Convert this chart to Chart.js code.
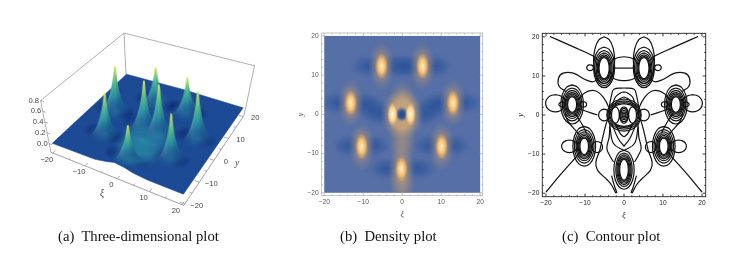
<!DOCTYPE html>
<html><head><meta charset="utf-8">
<script src="https://cdn.jsdelivr.net/npm/chart.js@4"></script>
<style>
html,body{margin:0;padding:0;background:#fff;width:730px;height:253px;overflow:hidden}
canvas{position:absolute}
.cap{position:absolute;top:228px;font:14.7px "Liberation Serif",serif;color:#111;white-space:pre}
</style></head><body>
<canvas id="c3d" width="280" height="253" style="left:0;top:0"></canvas>
<canvas id="cden" width="210" height="210" style="left:290px;top:20px"></canvas>
<canvas id="ccon" width="210" height="210" style="left:510px;top:20px"></canvas>
<div class="cap" style="left:58px">(a)  Three-dimensional plot</div>
<div class="cap" style="left:340px">(b)  Density plot</div>
<div class="cap" style="left:562px">(c)  Contour plot</div>
<script>
/* ---------- values ---------- */
const axisLabelTicks=[-20,-10,0,10,20];
const zLabelTicks=[0,0.2,0.4,0.6,0.8];
// peaks: xi, y, height
const peaks3d=[[-5.3,12,0.62],[5.3,12,0.62],[-13.5,3,0.8],[-2.4,0,0.84],[2.4,0,0.85],[13.5,3,0.82],[-10.5,-8,0.73],[10.5,-8,0.75],[0,-14,0.55]];
// broad raised areas of the surface: xi, y
const mounds3d=[[1,-6],[1,-10],[0,-2]];
// valleys: xi, y
const valleys=[[-16.4,2.9],[-10,2.9],[-5.7,0],[5.4,0],[9.7,2.9],[16,2.9],[-8.7,12.3],[0,12.3],[8.4,12.3],[-13.4,-8],[-7.4,-8],[7.1,-8],[13,-8],[-4,-13.8],[4.1,-13.8]];
// outline of the surface sheet: xi, y, height
const sheetEdge=[[-20,-20,0],[-7,-20,0.01],[-3.5,-20,0.05],[-1,-20,0.09],[2,-20,0.07],[4.5,-20,0.03],[9,-20,0.005],[20,-20,0],[20,20,0],[8,20,0.01],[0,20,0.02],[-20,20,0]];
// box edges: xi, y, height
const B=20.6,ZB=-0.16,ZT=0.8;
const boxBack=[[[-B,-B,ZB],[-B,-B,ZT],[-B,B,ZT],[B,B,ZT],[B,B,ZB]],[[-B,B,ZT],[-B,B,ZB]]];
const boxFront=[[[-B,-B,ZB],[B,-B,ZB],[B,B,ZB]]];

// density plot
const densityPeaks=[[-5.3,12.3],[5.2,12.3],[-13.2,2.9],[13,2.9],[-10.4,-8.2],[10.1,-8.2],[-0.2,-13.9]];
const densityInner=[[-2.5,0],[2.1,0]];
const densityDips=[[-16.4,2.9],[-10,2.9],[-8,1.6],[-5.7,0],[5.4,0],[7.5,1.6],[9.7,2.9],[16,2.9],[-8.7,12.3],[-2.2,12.3],[0,12.3],[2.2,12.3],[8.4,12.3],[-13.4,-8],[-7.4,-8],[7.1,-8],[13,-8],[-4,-13.8],[4.1,-13.8]];
const densityHole=[[-0.1,0]];
const densityRidge=[[0,5],[0,3],[0,-3],[0,-5],[0,-7],[0,-9],[0,-17],[0,-19]];

// contour plot: lines of the left half, xi,y; the plot is mirrored about xi=0
const contourLines=[
 [[-19,20.1],[-14.7,18.2],[-10.9,16.5],[-7.9,15.1],[-6.8,14.1]],
 [[-20,-19.7],[-16.4,-15.4],[-12.1,-10.5],[-11.1,-9.1]],
 [[-6.6,9.4],[-7.9,8.5],[-10,9.1],[-13,10.7],[-15.6,10.7],[-16.8,9.4],[-16.6,7.3],[-14.9,6]],
 [[-11.7,3.8],[-10,5.7],[-7.4,6.2],[-5.3,4.5],[-3.8,1.7],[-3.6,0]],
 [[-11.7,1.7],[-8.7,0.6],[-6.8,0]],
 [[-15.1,0.4],[-14.3,-1.7],[-12.1,-4.3],[-11.3,-5.1]],
 [[-12.6,0.4],[-10.9,-2.1],[-9.6,-4.7]],
 [[-4,-0.4],[-5,-3.8],[-6.2,-9],[-7.2,-12],[-6.8,-14.1],[-4.4,-16.5],[-3.2,-17.9],[-2.1,-20]],
 [[-3.6,-2.1],[-3.8,-5.6],[-4.4,-8.5],[-3.6,-10.5],[-2.7,-12]],
 [[-3.2,-2.1],[-1.5,-6],[0,-8]],
 [[-2.3,-2.1],[-1,-4.7],[0,-5.6]],
 [[-3.6,-3],[-2.7,-7.3],[0,-9.1]],
 [[-3.2,-15.5],[-2.5,-18],[-1.8,-20]],
 [[-3.8,2],[-3.2,5],[-2.6,6.6],[0,6.9]],
 [[-3,2.4],[-2.2,4.6],[-1,5.6],[0,5.9]],
 [[-2.4,2.6],[-1.3,4],[0,4.6]],
 [[-2.9,9.4],[-1.4,8.9],[0,8.8]],
 [[-2.9,14.1],[-1.4,14.7],[0,14.9]],
 [[-2.6,12],[-1.4,12],[0,12]]
];
// closed ovals of the left half and the centre: centre xi, y, half width, half height
const contourOvals=[
 [-5.1,12,1.3,2.7],[-5.1,12,1.5,3],[-5.1,12,1.75,3.4],[-5.1,12,2.05,3.9],[-5.1,12,2.4,4.5],[-5.1,12.2,2.7,5.2],[-5.1,14,2.7,6],
 [-8.7,12.1,0.85,0.75],
 [-13.3,2.7,1.15,2],[-13.3,2.7,1.35,2.3],[-13.3,2.7,1.6,2.7],[-13.3,2.7,1.85,3.1],[-13.3,2.7,2.15,3.6],[-13.3,2.7,2.5,4.2],[-13.3,2.7,2.9,5],
 [-15.8,2.7,0.9,0.6],[-10.4,2.7,0.8,0.7],[-17.6,3,2.5,2.2],
 [-10.2,-8,1.1,2.1],[-10.2,-8,1.3,2.4],[-10.2,-8,1.55,2.8],[-10.2,-8,1.8,3.2],[-10.2,-8,2.1,3.7],[-10.2,-8,2.5,4.3],[-10.2,-8,2.9,5.1],
 [-14,-8,2,1.6],[-6.9,-8.2,1.4,1.4],
 [-2.2,0,1,2.1],[-5.1,0,1.4,1.5]
];
const contourCentreOvals=[
 [0,-14,1.1,2.7],[0,-14,1.3,3],[0,-14,1.55,3.4],[0,-14,1.8,3.8],[0,-14,2.1,4.3],[0,-14,2.6,5],
 [0,0,3.6,2.9],[0,0,3.9,3.2],[0,0,4.2,3.6],[0,0,4.4,4.1],
 [0,0,0.25,0.4],[0,0,0.5,0.8],[0,0,0.8,1.2],[0,0,1,1.7],[0,0,1.15,2.1]
];
const ovalOutline=[[0,1],[0.5,0.87],[0.87,0.5],[1,0],[0.87,-0.5],[0.5,-0.87],[0,-1],[-0.5,-0.87],[-0.87,-0.5],[-1,0],[-0.87,0.5],[-0.5,0.87],[0,1]];

/* ---------- helpers ---------- */
const SANS='"Liberation Sans",sans-serif';
const minus=v=>v<0?'\u2212'+(-v):String(v);
function sprite(w,h,draw){const c=document.createElement('canvas');c.width=w;c.height=h;draw(c.getContext('2d'),w,h);return c;}
function glow(rx,ry,stops){
  const w=Math.ceil(rx*2),h=Math.ceil(ry*2);
  return sprite(w,h,(g)=>{g.translate(w/2,h/2);g.scale(rx,ry);
    const r=g.createRadialGradient(0,0,0,0,0,1);stops.forEach(s=>r.addColorStop(s[0],s[1]));
    g.fillStyle=r;g.beginPath();g.arc(0,0,1,0,7);g.fill();});
}
function spike(w,h){
  return sprite(w,h*2,(g)=>{
    const c=w/2;
    g.beginPath();g.moveTo(0,h);
    g.bezierCurveTo(w*0.3,h*0.88,w*0.43,h*0.42,c-1,h*0.03);
    g.quadraticCurveTo(c,-1,c+1,h*0.03);
    g.bezierCurveTo(w*0.57,h*0.42,w*0.7,h*0.88,w,h);g.closePath();
    const v=g.createLinearGradient(0,0,0,h);
    v.addColorStop(0,'#dfe96c');v.addColorStop(0.14,'#a4d873');v.addColorStop(0.36,'#52bb96');
    v.addColorStop(0.62,'#2d93a8');v.addColorStop(0.85,'rgba(35,105,160,.7)');v.addColorStop(1,'rgba(30,80,152,0)');
    g.fillStyle=v;g.fill();
    g.globalCompositeOperation='source-atop';
    const s=g.createLinearGradient(c-w*0.16,0,c+w*0.16,0);
    s.addColorStop(0,'rgba(255,255,190,.1)');s.addColorStop(0.5,'rgba(0,0,0,0)');s.addColorStop(1,'rgba(5,45,100,.3)');
    g.fillStyle=s;g.fillRect(0,0,w,h);
  });
}
function project(xi,y,z){
  const u=(xi+20)/40,v=(y+20)/40;
  const a=(1-u)*(1-v),b=u*(1-v),c=u*v,d=(1-u)*v;
  const sx=49*a+185*b+247*c+126*d, sy=144*a+197*b+107*c+72*d;
  const zs=56*(1-(144-sy)*0.0011);
  return {x:sx+(sx-147)*z*0.11,y:sy-z*zs};
}
const p3=t=>project(t[0],t[1],t[2]||0);
const clipSheet={id:'clipSheet',
  beforeDatasetDraw(ch,a){if(!ch.data.datasets[a.index].onSheet)return;
    const {ctx,scales:{x,y}}=ch;ctx.save();ctx.beginPath();
    sheetEdge.forEach((t,i)=>{const p=p3(t);const X=x.getPixelForValue(p.x),Y=y.getPixelForValue(p.y);i?ctx.lineTo(X,Y):ctx.moveTo(X,Y);});
    ctx.closePath();ctx.clip();},
  afterDatasetDraw(ch,a){if(ch.data.datasets[a.index].onSheet)ch.ctx.restore();}
};
const axes3d={id:'axes3d',afterDatasetsDraw(ch){
  const {ctx,scales:{x,y}}=ch;const P=p=>[x.getPixelForValue(p.x),y.getPixelForValue(p.y)];
  ctx.save();ctx.strokeStyle='#8a8a8a';ctx.lineWidth=.7;ctx.fillStyle='#444';
  ctx.font='7.6px '+SANS;ctx.textBaseline='middle';
  const tick=(a,b)=>{const A=P(a),C=P(b);ctx.beginPath();ctx.moveTo(A[0],A[1]);ctx.lineTo(C[0],C[1]);ctx.stroke();};
  for(let k=-20;k<=20;k+=5){
    const len=k%10?0.8:1.5;
    tick(project(k,-B,ZB),project(k,-B+len,ZB));
    tick(project(B,k,ZB),project(B-len,k,ZB));
  }
  ctx.textAlign='center';
  axisLabelTicks.forEach(k=>{
    const a=P(project(k,-B,ZB));ctx.fillText(minus(k),a[0]-6,a[1]+6.5);
    const b=P(project(B,k,ZB));ctx.fillText(minus(k),b[0]+12,b[1]+1.5);
  });
  ctx.textAlign='right';
  zLabelTicks.forEach(k=>{const a=P(project(-B,-B,k));ctx.fillText(k.toFixed(1),a[0]-1.5,a[1]);
    tick(project(-B,-B,k),project(-B+0.9,-B,k));});
  ctx.font='italic 9.5px "Liberation Serif",serif';ctx.textAlign='center';
  ctx.fillText('\u03be',102,193);ctx.fillText('y',237,163);
  ctx.restore();
}};
function frameTicks(color,lw){return {id:'frameTicks',afterDatasetsDraw(ch){
  const {ctx,chartArea:A,scales:{x,y}}=ch;
  ctx.save();ctx.strokeStyle=color;ctx.lineWidth=lw;
  ctx.strokeRect(A.left,A.top,A.right-A.left,A.bottom-A.top);
  ctx.beginPath();
  for(let k=-20;k<=20;k+=2){
    const len=k%10?1.5:3,X=x.getPixelForValue(k),Y=y.getPixelForValue(k);
    ctx.moveTo(X,A.bottom);ctx.lineTo(X,A.bottom-len);ctx.moveTo(X,A.top);ctx.lineTo(X,A.top+len);
    ctx.moveTo(A.left,Y);ctx.lineTo(A.left+len,Y);ctx.moveTo(A.right,Y);ctx.lineTo(A.right-len,Y);
  }
  ctx.stroke();ctx.restore();
}};}
function planeAxis(lim,col,title,fit){return {
  type:'linear',min:-lim,max:lim,
  afterBuildTicks:s=>{s.ticks=axisLabelTicks.map(v=>({value:v}));},
  afterFit:fit,
  ticks:{callback:minus,color:col,font:{size:6.6,family:SANS},padding:3,maxRotation:0,autoSkip:false},
  grid:{drawOnChartArea:false,drawTicks:false},border:{display:false},
  title:{display:true,text:title,color:col,padding:0,font:{size:8,style:'italic',family:'"Liberation Serif",serif'}}
};}
const base={responsive:false,animation:false,devicePixelRatio:1,events:[],
  plugins:{legend:{display:false},tooltip:{enabled:false}}};

/* ---------- (a) three-dimensional plot ---------- */
const xy=t=>p3(t);
const ds3=[];
boxBack.forEach(e=>ds3.push({type:'line',data:e.map(xy),borderColor:'#9a9a9a',borderWidth:.8,pointRadius:0,order:30,clip:false}));
boxFront.forEach(e=>ds3.push({type:'line',data:e.map(xy),borderColor:'#8a8a8a',borderWidth:.8,pointRadius:0,order:29,clip:false}));
ds3.push({type:'line',data:sheetEdge.concat([sheetEdge[0]]).map(xy),borderColor:'#1a4690',borderWidth:.5,backgroundColor:'#1c4a94',fill:'shape',pointRadius:0,order:20,clip:false});
const moundSprite=glow(30,20,[[0,'rgba(46,145,165,.95)'],[.55,'rgba(40,125,160,.65)'],[1,'rgba(30,85,150,0)']]);
const haloSprite=glow(19,12,[[0,'rgba(42,130,165,.8)'],[.5,'rgba(36,105,158,.45)'],[1,'rgba(30,80,150,0)']]);
const valleySprite=glow(12,8,[[0,'rgba(14,36,108,.9)'],[.6,'rgba(16,44,118,.45)'],[1,'rgba(25,65,135,0)']]);
const commonPts={pointRadius:1,showLine:false,clip:false,onSheet:true};
ds3.push({...commonPts,data:valleys.map(xy),pointStyle:valleySprite,order:19});
ds3.push({...commonPts,data:mounds3d.map(xy),pointStyle:moundSprite,order:18});
ds3.push({...commonPts,data:peaks3d.map(t=>project(t[0],t[1],0)),pointStyle:haloSprite,order:17});
const ordered=peaks3d.slice().sort((a,b)=>project(a[0],a[1],0).y-project(b[0],b[1],0).y);
ordered.forEach((t,i)=>{
  const g=project(t[0],t[1],0),tip=project(t[0],t[1],t[2]);
  ds3.push({pointRadius:1,showLine:false,clip:false,data:[{x:g.x,y:g.y+4}],pointStyle:spike(34,Math.round(g.y-tip.y+5)),order:16-i});
});
const hid={display:false};
new Chart(document.getElementById('c3d'),{type:'scatter',data:{datasets:ds3},
  options:{...base,layout:{padding:0},scales:{
    x:{type:'linear',min:0,max:280,...hid},y:{type:'linear',min:0,max:253,reverse:true,...hid}}},
  plugins:[clipSheet,axes3d]});

/* ---------- (b) density plot ---------- */
const pt=t=>({x:t[0],y:t[1]});
const paperBg={id:'paperBg',beforeDatasetsDraw(ch){
  const {ctx,scales:{x,y}}=ch;const X0=x.getPixelForValue(-20),X1=x.getPixelForValue(20),Y0=y.getPixelForValue(20),Y1=y.getPixelForValue(-20);
  ctx.fillStyle='#566fa6';ctx.fillRect(X0,Y0,X1-X0,Y1-Y0);
}};
const dipSprite=glow(20,13,[[0,'rgba(40,80,155,.8)'],[.55,'rgba(48,88,155,.42)'],[1,'rgba(86,111,166,0)']]);
const holeSprite=glow(7,8,[[0,'rgba(32,68,145,1)'],[.5,'rgba(40,80,150,.9)'],[1,'rgba(120,120,140,0)']]);
const ridgeSprite=glow(15,16,[[0,'rgba(185,158,120,.5)'],[.6,'rgba(160,140,130,.22)'],[1,'rgba(120,125,150,0)']]);
const centreSprite=glow(22,27,[[0,'rgba(225,180,120,.85)'],[.55,'rgba(215,170,115,.7)'],[1,'rgba(140,135,140,0)']]);
const peakHalo=glow(14,26,[[0,'rgba(230,170,95,.8)'],[.45,'rgba(200,155,110,.48)'],[1,'rgba(130,130,145,0)']]);
const peakCore=glow(6.5,13,[[0,'rgba(255,236,195,1)'],[.5,'rgba(248,198,118,.95)'],[1,'rgba(240,175,90,0)']]);
const innerCore=glow(5.5,12,[[0,'rgba(255,248,225,1)'],[.55,'rgba(252,215,145,.95)'],[1,'rgba(240,180,100,0)']]);
const S=(data,ps,order)=>({data:data.map(pt),pointStyle:ps,pointRadius:1,order,clip:-2.6});
new Chart(document.getElementById('cden'),{type:'scatter',data:{datasets:[
  S(densityDips,dipSprite,9),S(densityRidge,ridgeSprite,8),S([[0,0]],centreSprite,7),
  S(densityPeaks,peakHalo,6),S(densityPeaks,peakCore,5),S(densityHole,holeSprite,4),S(densityInner,innerCore,3)]},
  options:{...base,layout:{padding:{left:6,top:13,right:17.3,bottom:10.3}},scales:{
    x:planeAxis(20.65,'#555','\u03be',s=>{s.height=24;}),
    y:planeAxis(20.75,'#555','y',s=>{s.width=25.7;})}},
  plugins:[paperBg,frameTicks('#a8a8a8',.7)]});

/* ---------- (c) contour plot ---------- */
const conDs=[];
const addLine=l=>conDs.push({type:'line',data:l.map(pt),borderColor:'#111',borderWidth:1.2,pointRadius:0,tension:.4,clip:false});
const ovalPts=o=>ovalOutline.map(q=>[o[0]+q[0]*o[2],o[1]+q[1]*o[3]]);
const mirror=l=>l.map(t=>[-t[0],t[1]]);
contourLines.forEach(l=>{addLine(l);addLine(mirror(l));});
contourOvals.forEach(o=>{const l=ovalPts(o);addLine(l);addLine(mirror(l));});
contourCentreOvals.forEach(o=>addLine(ovalPts(o)));
new Chart(document.getElementById('ccon'),{type:'scatter',data:{datasets:conDs},
  options:{...base,layout:{padding:{left:6,top:13.3,right:14.3,bottom:9.3}},scales:{
    x:planeAxis(20.95,'#222','\u03be',s=>{s.height=24;}),
    y:planeAxis(20.9,'#222','y',s=>{s.width=26.3;})}},
  plugins:[frameTicks('#222',.9)]});
</script>
</body></html>
